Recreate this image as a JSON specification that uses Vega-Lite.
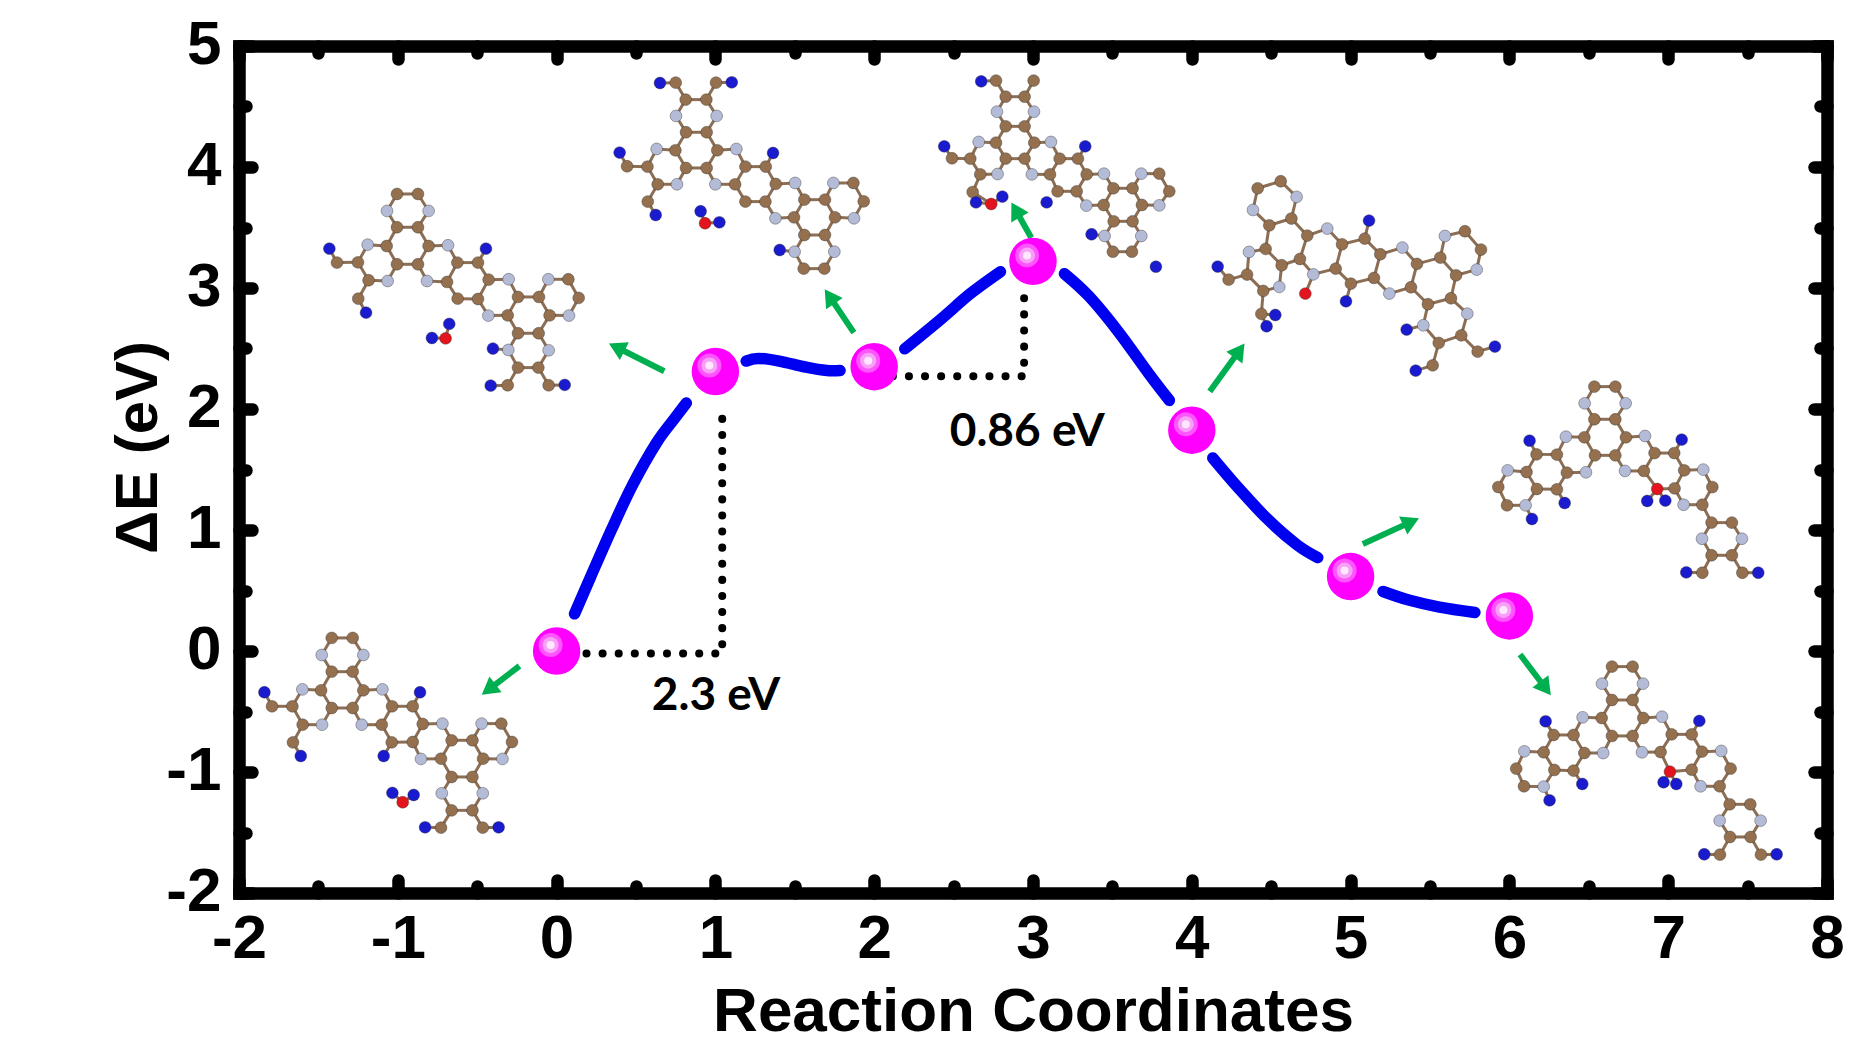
{"$schema":"https://vega.github.io/schema/vega-lite/v6.json","width":1588,"height":847,"autosize":{"type":"none"},"padding":{"left":239,"top":46,"right":44,"bottom":170},"background":"white",
"datasets":{
"energy":[{"x":0,"y":0},{"x":1,"y":2.31},{"x":2,"y":2.35},{"x":3,"y":3.22},{"x":4,"y":1.825},{"x":5,"y":0.615},{"x":6,"y":0.29}],
"curve":[{"s":"a","x":0.113,"y":0.307},{"s":"a","x":0.215,"y":0.615},{"s":"a","x":0.347,"y":1.007},{"s":"a","x":0.478,"y":1.371},{"s":"a","x":0.629,"y":1.72},{"s":"a","x":0.742,"y":1.92},{"s":"a","x":0.817,"y":2.05},
{"s":"b","x":1.194,"y":2.396},{"s":"b","x":1.269,"y":2.418},{"s":"b","x":1.401,"y":2.396},{"s":"b","x":1.571,"y":2.346},{"s":"b","x":1.702,"y":2.318},{"s":"b","x":1.785,"y":2.318},
{"s":"c","x":2.192,"y":2.497},{"s":"c","x":2.415,"y":2.737},{"s":"c","x":2.608,"y":2.956},{"s":"c","x":2.795,"y":3.135},
{"s":"d","x":3.198,"y":3.118},{"s":"d","x":3.355,"y":2.928},{"s":"d","x":3.542,"y":2.631},{"s":"d","x":3.728,"y":2.295},{"s":"d","x":3.859,"y":2.071},
{"s":"e","x":4.132,"y":1.595},{"s":"e","x":4.289,"y":1.354},{"s":"e","x":4.476,"y":1.091},{"s":"e","x":4.662,"y":0.878},{"s":"e","x":4.793,"y":0.772},
{"s":"f","x":5.204,"y":0.492},{"s":"f","x":5.372,"y":0.419},{"s":"f","x":5.559,"y":0.363},{"s":"f","x":5.783,"y":0.318}],
"dots":[{"s":"a","i":1,"x":0.188,"y":-0.02},{"s":"a","i":2,"x":1.043,"y":-0.02},{"s":"a","i":3,"x":1.043,"y":2.015},{"s":"b","i":1,"x":2.117,"y":2.27},{"s":"b","i":2,"x":2.944,"y":2.27},{"s":"b","i":3,"x":2.944,"y":2.967}],
"shafts":[{"x":-0.234,"y":-0.124,"x2":-0.428,"y2":-0.319},{"x":0.678,"y":2.312,"x2":0.378,"y2":2.51},{"x":1.872,"y":2.631,"x2":1.719,"y2":2.93},{"x":2.989,"y":3.415,"x2":2.891,"y2":3.645},{"x":4.113,"y":2.144,"x2":4.3,"y2":2.483},{"x":5.077,"y":0.884,"x2":5.381,"y2":1.067},{"x":6.067,"y":-0.029,"x2":6.228,"y2":-0.308}],
"heads":[{"x":-0.428,"y":-0.319,"a":232.6},{"x":0.378,"y":2.51,"a":296.6},{"x":1.719,"y":2.93,"a":326},{"x":2.891,"y":3.645,"a":330.6},{"x":4.3,"y":2.483,"a":36},{"x":5.381,"y":1.067,"a":65.5},{"x":6.228,"y":-0.308,"a":142.9}],
"notes":[{"x":1.004,"y":-0.375,"t":"2.3 eV"},{"x":2.964,"y":1.807,"t":"0.86 eV"}],
"atoms":[
{"id":1,"e":"C","x":-1.416,"y":0.108},{"id":2,"e":"C","x":-1.284,"y":0.108},{"id":3,"e":"N","x":-1.479,"y":-0.033},{"id":4,"e":"N","x":-1.217,"y":-0.033},{"id":5,"e":"C","x":-1.416,"y":-0.171},{"id":6,"e":"C","x":-1.284,"y":-0.171},{"id":7,"e":"C","x":-1.483,"y":-0.325},{"id":8,"e":"C","x":-1.217,"y":-0.325},{"id":9,"e":"N","x":-1.601,"y":-0.317},{"id":10,"e":"N","x":-1.097,"y":-0.317},{"id":11,"e":"C","x":-1.416,"y":-0.471},{"id":12,"e":"C","x":-1.284,"y":-0.471},{"id":13,"e":"C","x":-1.664,"y":-0.457},{"id":14,"e":"C","x":-1.792,"y":-0.457},{"id":15,"e":"C","x":-1.599,"y":-0.609},{"id":16,"e":"C","x":-1.66,"y":-0.755},{"id":17,"e":"N","x":-1.477,"y":-0.609},{"id":18,"e":"N","x":-1.227,"y":-0.609},{"id":19,"e":"C","x":-1.101,"y":-0.609},{"id":20,"e":"C","x":-1.036,"y":-0.457},{"id":21,"e":"C","x":-0.906,"y":-0.457},{"id":22,"e":"C","x":-0.843,"y":-0.603},{"id":23,"e":"C","x":-0.906,"y":-0.752},{"id":24,"e":"C","x":-1.038,"y":-0.755},{"id":25,"e":"N","x":-0.719,"y":-0.6},{"id":26,"e":"N","x":-0.854,"y":-0.892},{"id":27,"e":"C","x":-0.661,"y":-0.738},{"id":28,"e":"C","x":-0.53,"y":-0.738},{"id":29,"e":"C","x":-0.463,"y":-0.89},{"id":30,"e":"C","x":-0.53,"y":-1.041},{"id":31,"e":"C","x":-0.661,"y":-1.041},{"id":32,"e":"C","x":-0.728,"y":-0.89},{"id":33,"e":"N","x":-0.472,"y":-0.6},{"id":34,"e":"N","x":-0.341,"y":-0.892},{"id":35,"e":"C","x":-0.348,"y":-0.6},{"id":36,"e":"C","x":-0.281,"y":-0.752},{"id":37,"e":"N","x":-0.723,"y":-1.176},{"id":38,"e":"N","x":-0.465,"y":-1.176},{"id":39,"e":"C","x":-0.661,"y":-1.317},{"id":40,"e":"C","x":-0.53,"y":-1.317},{"id":41,"e":"C","x":-0.728,"y":-1.46},{"id":42,"e":"C","x":-0.465,"y":-1.46},{"id":43,"e":"B","x":-1.84,"y":-0.341},{"id":44,"e":"B","x":-1.611,"y":-0.868},{"id":45,"e":"B","x":-0.86,"y":-0.341},{"id":46,"e":"B","x":-1.089,"y":-0.868},{"id":47,"e":"B","x":-1.034,"y":-1.173},{"id":48,"e":"B","x":-0.9,"y":-1.19},{"id":49,"e":"B","x":-0.828,"y":-1.457},{"id":50,"e":"B","x":-0.365,"y":-1.457},{"id":51,"e":"O","x":-0.969,"y":-1.25},
{"id":101,"e":"C","x":-1.005,"y":3.777},{"id":102,"e":"C","x":-0.873,"y":3.777},{"id":103,"e":"N","x":-1.068,"y":3.637},{"id":104,"e":"N","x":-0.806,"y":3.637},{"id":105,"e":"C","x":-1.005,"y":3.502},{"id":106,"e":"C","x":-0.873,"y":3.502},{"id":107,"e":"C","x":-1.07,"y":3.347},{"id":108,"e":"C","x":-0.806,"y":3.347},{"id":109,"e":"N","x":-1.19,"y":3.358},{"id":110,"e":"N","x":-0.684,"y":3.353},{"id":111,"e":"C","x":-1.005,"y":3.196},{"id":112,"e":"C","x":-0.873,"y":3.196},{"id":113,"e":"C","x":-1.251,"y":3.212},{"id":114,"e":"C","x":-1.383,"y":3.21},{"id":115,"e":"C","x":-1.184,"y":3.064},{"id":116,"e":"C","x":-1.249,"y":2.912},{"id":117,"e":"N","x":-1.064,"y":3.058},{"id":118,"e":"N","x":-0.816,"y":3.058},{"id":119,"e":"C","x":-0.69,"y":3.05},{"id":120,"e":"C","x":-0.625,"y":3.21},{"id":121,"e":"C","x":-0.495,"y":3.21},{"id":122,"e":"C","x":-0.428,"y":3.069},{"id":123,"e":"C","x":-0.495,"y":2.909},{"id":124,"e":"C","x":-0.623,"y":2.912},{"id":125,"e":"N","x":-0.302,"y":3.072},{"id":126,"e":"N","x":-0.43,"y":2.772},{"id":127,"e":"C","x":-0.243,"y":2.926},{"id":128,"e":"C","x":-0.111,"y":2.926},{"id":129,"e":"C","x":-0.044,"y":2.774},{"id":130,"e":"C","x":-0.113,"y":2.626},{"id":131,"e":"C","x":-0.243,"y":2.626},{"id":132,"e":"C","x":-0.308,"y":2.774},{"id":133,"e":"N","x":-0.052,"y":3.072},{"id":134,"e":"N","x":0.078,"y":2.772},{"id":135,"e":"C","x":0.074,"y":3.072},{"id":136,"e":"C","x":0.139,"y":2.918},{"id":137,"e":"N","x":-0.304,"y":2.488},{"id":138,"e":"N","x":-0.05,"y":2.485},{"id":139,"e":"C","x":-0.243,"y":2.342},{"id":140,"e":"C","x":-0.115,"y":2.342},{"id":141,"e":"C","x":-0.308,"y":2.196},{"id":142,"e":"C","x":-0.05,"y":2.196},{"id":143,"e":"B","x":-1.431,"y":3.325},{"id":144,"e":"B","x":-1.2,"y":2.796},{"id":145,"e":"B","x":-0.445,"y":3.325},{"id":146,"e":"B","x":-0.401,"y":2.499},{"id":147,"e":"B","x":-0.676,"y":2.703},{"id":148,"e":"B","x":-0.785,"y":2.587},{"id":149,"e":"B","x":-0.415,"y":2.193},{"id":150,"e":"B","x":0.051,"y":2.199},{"id":151,"e":"O","x":-0.699,"y":2.584},
{"id":201,"e":"C","x":0.813,"y":4.557},{"id":202,"e":"C","x":0.943,"y":4.557},{"id":203,"e":"N","x":0.752,"y":4.422},{"id":204,"e":"N","x":1.008,"y":4.422},{"id":205,"e":"C","x":0.815,"y":4.287},{"id":206,"e":"C","x":0.945,"y":4.287},{"id":207,"e":"C","x":0.748,"y":4.138},{"id":208,"e":"C","x":1.012,"y":4.138},{"id":209,"e":"N","x":0.63,"y":4.149},{"id":210,"e":"N","x":1.132,"y":4.149},{"id":211,"e":"C","x":0.815,"y":3.992},{"id":212,"e":"C","x":0.945,"y":3.992},{"id":213,"e":"C","x":0.572,"y":4.003},{"id":214,"e":"C","x":0.444,"y":4.006},{"id":215,"e":"C","x":0.637,"y":3.857},{"id":216,"e":"C","x":0.574,"y":3.714},{"id":217,"e":"N","x":0.758,"y":3.857},{"id":218,"e":"N","x":1.0,"y":3.857},{"id":219,"e":"C","x":1.124,"y":3.857},{"id":220,"e":"C","x":1.189,"y":4.003},{"id":221,"e":"C","x":1.317,"y":4.003},{"id":222,"e":"C","x":1.38,"y":3.86},{"id":223,"e":"C","x":1.315,"y":3.714},{"id":224,"e":"C","x":1.189,"y":3.714},{"id":225,"e":"N","x":1.502,"y":3.868},{"id":226,"e":"N","x":1.378,"y":3.576},{"id":227,"e":"C","x":1.56,"y":3.73},{"id":228,"e":"C","x":1.69,"y":3.73},{"id":229,"e":"C","x":1.753,"y":3.584},{"id":230,"e":"C","x":1.69,"y":3.438},{"id":231,"e":"C","x":1.56,"y":3.438},{"id":232,"e":"C","x":1.495,"y":3.584},{"id":233,"e":"N","x":1.743,"y":3.868},{"id":234,"e":"N","x":1.873,"y":3.576},{"id":235,"e":"C","x":1.869,"y":3.868},{"id":236,"e":"C","x":1.934,"y":3.716},{"id":237,"e":"N","x":1.499,"y":3.3},{"id":238,"e":"N","x":1.749,"y":3.3},{"id":239,"e":"C","x":1.556,"y":3.16},{"id":240,"e":"C","x":1.686,"y":3.16},{"id":241,"e":"C","x":0.75,"y":4.697},{"id":242,"e":"C","x":1.004,"y":4.697},{"id":243,"e":"B","x":0.397,"y":4.119},{"id":244,"e":"B","x":0.624,"y":3.603},{"id":245,"e":"B","x":1.363,"y":4.116},{"id":246,"e":"B","x":1.405,"y":3.314},{"id":247,"e":"B","x":0.907,"y":3.634},{"id":248,"e":"B","x":1.025,"y":3.543},{"id":249,"e":"B","x":0.651,"y":4.694},{"id":250,"e":"B","x":1.103,"y":4.7},{"id":251,"e":"O","x":0.935,"y":3.535},
{"id":301,"e":"C","x":2.828,"y":4.581},{"id":302,"e":"C","x":2.947,"y":4.581},{"id":303,"e":"N","x":2.773,"y":4.457},{"id":304,"e":"N","x":3.006,"y":4.457},{"id":305,"e":"C","x":2.828,"y":4.336},{"id":306,"e":"C","x":2.947,"y":4.336},{"id":307,"e":"C","x":2.767,"y":4.201},{"id":308,"e":"C","x":3.008,"y":4.201},{"id":309,"e":"N","x":2.658,"y":4.207},{"id":310,"e":"N","x":3.113,"y":4.207},{"id":311,"e":"C","x":2.828,"y":4.069},{"id":312,"e":"C","x":2.947,"y":4.069},{"id":313,"e":"C","x":2.605,"y":4.069},{"id":314,"e":"C","x":2.49,"y":4.072},{"id":315,"e":"C","x":2.668,"y":3.939},{"id":316,"e":"C","x":2.62,"y":3.793},{"id":317,"e":"N","x":2.777,"y":3.942},{"id":318,"e":"N","x":2.993,"y":3.939},{"id":319,"e":"C","x":3.107,"y":3.939},{"id":320,"e":"C","x":3.168,"y":4.069},{"id":321,"e":"C","x":3.283,"y":4.069},{"id":322,"e":"C","x":3.338,"y":3.939},{"id":323,"e":"C","x":3.275,"y":3.799},{"id":324,"e":"C","x":3.155,"y":3.799},{"id":325,"e":"N","x":3.447,"y":3.945},{"id":326,"e":"N","x":3.336,"y":3.681},{"id":327,"e":"C","x":3.506,"y":3.824},{"id":328,"e":"C","x":3.627,"y":3.824},{"id":329,"e":"C","x":3.686,"y":3.686},{"id":330,"e":"C","x":3.627,"y":3.551},{"id":331,"e":"C","x":3.508,"y":3.551},{"id":332,"e":"C","x":3.445,"y":3.686},{"id":333,"e":"N","x":3.682,"y":3.945},{"id":334,"e":"N","x":3.795,"y":3.683},{"id":335,"e":"C","x":3.795,"y":3.945},{"id":336,"e":"C","x":3.858,"y":3.799},{"id":337,"e":"N","x":3.451,"y":3.43},{"id":338,"e":"N","x":3.682,"y":3.43},{"id":339,"e":"C","x":3.503,"y":3.3},{"id":340,"e":"C","x":3.623,"y":3.3},{"id":341,"e":"C","x":2.767,"y":4.714},{"id":342,"e":"C","x":3.004,"y":4.714},{"id":343,"e":"B","x":2.441,"y":4.171},{"id":344,"e":"B","x":2.641,"y":3.708},{"id":345,"e":"B","x":3.329,"y":4.171},{"id":346,"e":"B","x":3.369,"y":3.444},{"id":347,"e":"B","x":2.807,"y":3.755},{"id":348,"e":"B","x":3.086,"y":3.708},{"id":349,"e":"B","x":2.674,"y":4.708},{"id":350,"e":"B","x":3.774,"y":3.176},{"id":351,"e":"O","x":2.737,"y":3.694},
{"id":401,"e":"C","x":4.415,"y":3.824},{"id":402,"e":"C","x":4.56,"y":3.882},{"id":403,"e":"N","x":4.385,"y":3.645},{"id":404,"e":"N","x":4.66,"y":3.753},{"id":405,"e":"C","x":4.488,"y":3.518},{"id":406,"e":"C","x":4.627,"y":3.574},{"id":407,"e":"C","x":4.465,"y":3.323},{"id":408,"e":"C","x":4.727,"y":3.433},{"id":409,"e":"N","x":4.36,"y":3.298},{"id":410,"e":"N","x":4.853,"y":3.491},{"id":411,"e":"C","x":4.566,"y":3.188},{"id":412,"e":"C","x":4.681,"y":3.24},{"id":413,"e":"C","x":4.348,"y":3.111},{"id":414,"e":"C","x":4.232,"y":3.069},{"id":415,"e":"C","x":4.45,"y":2.976},{"id":416,"e":"C","x":4.438,"y":2.786},{"id":417,"e":"N","x":4.551,"y":3.009},{"id":418,"e":"N","x":4.765,"y":3.113},{"id":419,"e":"C","x":4.906,"y":3.16},{"id":420,"e":"C","x":4.946,"y":3.361},{"id":421,"e":"C","x":5.089,"y":3.408},{"id":422,"e":"C","x":5.187,"y":3.279},{"id":423,"e":"C","x":5.147,"y":3.083},{"id":424,"e":"C","x":5.002,"y":3.036},{"id":425,"e":"N","x":5.326,"y":3.334},{"id":426,"e":"N","x":5.244,"y":2.954},{"id":427,"e":"C","x":5.418,"y":3.199},{"id":428,"e":"C","x":5.565,"y":3.251},{"id":429,"e":"C","x":5.664,"y":3.105},{"id":430,"e":"C","x":5.632,"y":2.915},{"id":431,"e":"C","x":5.487,"y":2.866},{"id":432,"e":"C","x":5.38,"y":3.006},{"id":433,"e":"N","x":5.594,"y":3.43},{"id":434,"e":"N","x":5.794,"y":3.152},{"id":435,"e":"C","x":5.72,"y":3.469},{"id":436,"e":"C","x":5.821,"y":3.317},{"id":437,"e":"N","x":5.458,"y":2.692},{"id":438,"e":"N","x":5.735,"y":2.788},{"id":439,"e":"C","x":5.555,"y":2.546},{"id":440,"e":"C","x":5.697,"y":2.609},{"id":441,"e":"C","x":5.517,"y":2.361},{"id":442,"e":"C","x":5.8,"y":2.474},{"id":443,"e":"B","x":4.163,"y":3.177},{"id":444,"e":"B","x":4.471,"y":2.684},{"id":445,"e":"B","x":5.116,"y":3.557},{"id":446,"e":"B","x":4.971,"y":2.89},{"id":447,"e":"B","x":4.526,"y":2.777},{"id":448,"e":"B","x":5.353,"y":2.656},{"id":449,"e":"B","x":5.41,"y":2.317},{"id":450,"e":"B","x":5.909,"y":2.516},{"id":451,"e":"O","x":4.715,"y":2.954},
{"id":501,"e":"C","x":6.535,"y":2.185},{"id":502,"e":"C","x":6.667,"y":2.185},{"id":503,"e":"N","x":6.474,"y":2.047},{"id":504,"e":"N","x":6.732,"y":2.047},{"id":505,"e":"C","x":6.535,"y":1.915},{"id":506,"e":"C","x":6.667,"y":1.915},{"id":507,"e":"C","x":6.472,"y":1.766},{"id":508,"e":"C","x":6.734,"y":1.766},{"id":509,"e":"N","x":6.356,"y":1.771},{"id":510,"e":"N","x":6.854,"y":1.777},{"id":511,"e":"C","x":6.539,"y":1.617},{"id":512,"e":"C","x":6.667,"y":1.617},{"id":513,"e":"C","x":6.299,"y":1.623},{"id":514,"e":"C","x":6.171,"y":1.625},{"id":515,"e":"C","x":6.362,"y":1.474},{"id":516,"e":"C","x":6.299,"y":1.336},{"id":517,"e":"N","x":6.482,"y":1.477},{"id":518,"e":"N","x":6.728,"y":1.488},{"id":519,"e":"C","x":6.173,"y":1.339},{"id":520,"e":"C","x":6.108,"y":1.479},{"id":521,"e":"N","x":5.989,"y":1.493},{"id":522,"e":"N","x":6.102,"y":1.204},{"id":523,"e":"C","x":5.93,"y":1.355},{"id":524,"e":"C","x":5.985,"y":1.204},{"id":525,"e":"B","x":6.127,"y":1.738},{"id":526,"e":"B","x":6.348,"y":1.223},{"id":527,"e":"B","x":6.142,"y":1.091},{"id":528,"e":"C","x":6.914,"y":1.636},{"id":529,"e":"C","x":6.847,"y":1.488},{"id":530,"e":"C","x":7.038,"y":1.636},{"id":531,"e":"C","x":7.101,"y":1.493},{"id":532,"e":"C","x":7.04,"y":1.344},{"id":534,"e":"N","x":7.221,"y":1.499},{"id":535,"e":"N","x":7.097,"y":1.209},{"id":536,"e":"C","x":7.278,"y":1.355},{"id":537,"e":"C","x":7.215,"y":1.209},{"id":538,"e":"C","x":7.273,"y":1.061},{"id":539,"e":"C","x":7.401,"y":1.061},{"id":540,"e":"N","x":7.213,"y":0.928},{"id":541,"e":"N","x":7.464,"y":0.928},{"id":542,"e":"C","x":7.273,"y":0.791},{"id":543,"e":"C","x":7.401,"y":0.791},{"id":544,"e":"C","x":7.215,"y":0.647},{"id":545,"e":"C","x":7.467,"y":0.647},{"id":546,"e":"B","x":7.085,"y":1.747},{"id":547,"e":"B","x":7.114,"y":0.65},{"id":548,"e":"B","x":7.567,"y":0.647},{"id":549,"e":"B","x":6.868,"y":1.24},{"id":550,"e":"B","x":6.982,"y":1.243},{"id":551,"e":"O","x":6.931,"y":1.339},
{"id":601,"e":"C","x":6.646,"y":-0.129},{"id":602,"e":"C","x":6.776,"y":-0.129},{"id":603,"e":"N","x":6.583,"y":-0.27},{"id":604,"e":"N","x":6.841,"y":-0.27},{"id":605,"e":"C","x":6.646,"y":-0.405},{"id":606,"e":"C","x":6.776,"y":-0.405},{"id":607,"e":"C","x":6.581,"y":-0.554},{"id":608,"e":"C","x":6.843,"y":-0.554},{"id":609,"e":"N","x":6.461,"y":-0.548},{"id":610,"e":"N","x":6.961,"y":-0.543},{"id":611,"e":"C","x":6.646,"y":-0.702},{"id":612,"e":"C","x":6.776,"y":-0.702},{"id":613,"e":"C","x":6.404,"y":-0.694},{"id":614,"e":"C","x":6.278,"y":-0.694},{"id":615,"e":"C","x":6.472,"y":-0.843},{"id":616,"e":"C","x":6.404,"y":-0.989},{"id":617,"e":"N","x":6.591,"y":-0.843},{"id":618,"e":"N","x":6.835,"y":-0.837},{"id":619,"e":"C","x":6.283,"y":-0.983},{"id":620,"e":"C","x":6.216,"y":-0.837},{"id":621,"e":"N","x":6.094,"y":-0.829},{"id":622,"e":"N","x":6.216,"y":-1.121},{"id":623,"e":"C","x":6.043,"y":-0.972},{"id":624,"e":"C","x":6.092,"y":-1.118},{"id":625,"e":"B","x":6.228,"y":-0.581},{"id":626,"e":"B","x":6.459,"y":-1.099},{"id":627,"e":"B","x":6.253,"y":-1.234},{"id":628,"e":"C","x":7.022,"y":-0.689},{"id":629,"e":"C","x":6.952,"y":-0.835},{"id":630,"e":"C","x":7.148,"y":-0.689},{"id":631,"e":"C","x":7.213,"y":-0.832},{"id":632,"e":"C","x":7.148,"y":-0.981},{"id":634,"e":"N","x":7.334,"y":-0.826},{"id":635,"e":"N","x":7.204,"y":-1.118},{"id":636,"e":"C","x":7.393,"y":-0.972},{"id":637,"e":"C","x":7.324,"y":-1.118},{"id":638,"e":"C","x":7.387,"y":-1.267},{"id":639,"e":"C","x":7.517,"y":-1.267},{"id":640,"e":"N","x":7.324,"y":-1.402},{"id":641,"e":"N","x":7.582,"y":-1.402},{"id":642,"e":"C","x":7.389,"y":-1.537},{"id":643,"e":"C","x":7.519,"y":-1.537},{"id":644,"e":"C","x":7.326,"y":-1.683},{"id":645,"e":"C","x":7.584,"y":-1.683},{"id":646,"e":"B","x":7.196,"y":-0.578},{"id":647,"e":"B","x":7.227,"y":-1.68},{"id":648,"e":"B","x":7.683,"y":-1.68},{"id":649,"e":"B","x":6.971,"y":-1.085},{"id":650,"e":"B","x":7.051,"y":-1.099},{"id":651,"e":"O","x":7.011,"y":-0.997}
],
"bonds":[
{"a":1,"b":2},{"a":1,"b":3},{"a":2,"b":4},{"a":3,"b":5},{"a":4,"b":6},{"a":5,"b":6},{"a":5,"b":7},{"a":6,"b":8},{"a":7,"b":9},{"a":8,"b":10},{"a":7,"b":11},{"a":8,"b":12},{"a":11,"b":12},{"a":9,"b":13},{"a":13,"b":14},{"a":13,"b":15},{"a":15,"b":16},{"a":15,"b":17},{"a":17,"b":11},{"a":12,"b":18},{"a":18,"b":19},{"a":10,"b":20},{"a":19,"b":20},{"a":20,"b":21},{"a":21,"b":22},{"a":22,"b":23},{"a":23,"b":24},{"a":24,"b":19},{"a":22,"b":25},{"a":25,"b":27},{"a":23,"b":26},{"a":26,"b":32},{"a":27,"b":28},{"a":28,"b":29},{"a":29,"b":30},{"a":30,"b":31},{"a":31,"b":32},{"a":32,"b":27},{"a":28,"b":33},{"a":33,"b":35},{"a":35,"b":36},{"a":36,"b":34},{"a":34,"b":29},{"a":31,"b":37},{"a":30,"b":38},{"a":37,"b":39},{"a":38,"b":40},{"a":39,"b":40},{"a":39,"b":41},{"a":40,"b":42},{"a":14,"b":43},{"a":16,"b":44},{"a":21,"b":45},{"a":24,"b":46},{"a":41,"b":49},{"a":42,"b":50},{"a":47,"b":51},{"a":48,"b":51},
{"a":101,"b":102},{"a":101,"b":103},{"a":102,"b":104},{"a":103,"b":105},{"a":104,"b":106},{"a":105,"b":106},{"a":105,"b":107},{"a":106,"b":108},{"a":107,"b":109},{"a":108,"b":110},{"a":107,"b":111},{"a":108,"b":112},{"a":111,"b":112},{"a":109,"b":113},{"a":113,"b":114},{"a":113,"b":115},{"a":115,"b":116},{"a":115,"b":117},{"a":117,"b":111},{"a":112,"b":118},{"a":118,"b":119},{"a":110,"b":120},{"a":119,"b":120},{"a":120,"b":121},{"a":121,"b":122},{"a":122,"b":123},{"a":123,"b":124},{"a":124,"b":119},{"a":122,"b":125},{"a":125,"b":127},{"a":123,"b":126},{"a":126,"b":132},{"a":127,"b":128},{"a":128,"b":129},{"a":129,"b":130},{"a":130,"b":131},{"a":131,"b":132},{"a":132,"b":127},{"a":128,"b":133},{"a":133,"b":135},{"a":135,"b":136},{"a":136,"b":134},{"a":134,"b":129},{"a":131,"b":137},{"a":130,"b":138},{"a":137,"b":139},{"a":138,"b":140},{"a":139,"b":140},{"a":139,"b":141},{"a":140,"b":142},{"a":114,"b":143},{"a":116,"b":144},{"a":121,"b":145},{"a":137,"b":146},{"a":141,"b":149},{"a":142,"b":150},{"a":147,"b":151},{"a":148,"b":151},
{"a":201,"b":202},{"a":201,"b":203},{"a":202,"b":204},{"a":203,"b":205},{"a":204,"b":206},{"a":205,"b":206},{"a":205,"b":207},{"a":206,"b":208},{"a":207,"b":209},{"a":208,"b":210},{"a":207,"b":211},{"a":208,"b":212},{"a":211,"b":212},{"a":209,"b":213},{"a":213,"b":214},{"a":213,"b":215},{"a":215,"b":216},{"a":215,"b":217},{"a":217,"b":211},{"a":212,"b":218},{"a":218,"b":219},{"a":210,"b":220},{"a":219,"b":220},{"a":220,"b":221},{"a":221,"b":222},{"a":222,"b":223},{"a":223,"b":224},{"a":224,"b":219},{"a":222,"b":225},{"a":225,"b":227},{"a":223,"b":226},{"a":226,"b":232},{"a":227,"b":228},{"a":228,"b":229},{"a":229,"b":230},{"a":230,"b":231},{"a":231,"b":232},{"a":232,"b":227},{"a":228,"b":233},{"a":233,"b":235},{"a":235,"b":236},{"a":236,"b":234},{"a":234,"b":229},{"a":231,"b":237},{"a":230,"b":238},{"a":237,"b":239},{"a":238,"b":240},{"a":239,"b":240},{"a":201,"b":241},{"a":202,"b":242},{"a":214,"b":243},{"a":216,"b":244},{"a":221,"b":245},{"a":237,"b":246},{"a":241,"b":249},{"a":242,"b":250},{"a":247,"b":251},{"a":248,"b":251},
{"a":301,"b":302},{"a":301,"b":303},{"a":302,"b":304},{"a":303,"b":305},{"a":304,"b":306},{"a":305,"b":306},{"a":305,"b":307},{"a":306,"b":308},{"a":307,"b":309},{"a":308,"b":310},{"a":307,"b":311},{"a":308,"b":312},{"a":311,"b":312},{"a":309,"b":313},{"a":313,"b":314},{"a":313,"b":315},{"a":315,"b":316},{"a":315,"b":317},{"a":317,"b":311},{"a":312,"b":318},{"a":318,"b":319},{"a":310,"b":320},{"a":319,"b":320},{"a":320,"b":321},{"a":321,"b":322},{"a":322,"b":323},{"a":323,"b":324},{"a":324,"b":319},{"a":322,"b":325},{"a":325,"b":327},{"a":323,"b":326},{"a":326,"b":332},{"a":327,"b":328},{"a":328,"b":329},{"a":329,"b":330},{"a":330,"b":331},{"a":331,"b":332},{"a":332,"b":327},{"a":328,"b":333},{"a":333,"b":335},{"a":335,"b":336},{"a":336,"b":334},{"a":334,"b":329},{"a":331,"b":337},{"a":330,"b":338},{"a":337,"b":339},{"a":338,"b":340},{"a":339,"b":340},{"a":301,"b":341},{"a":302,"b":342},{"a":314,"b":343},{"a":321,"b":345},{"a":337,"b":346},{"a":341,"b":349},{"a":316,"b":351},{"a":344,"b":351},{"a":347,"b":351},
{"a":401,"b":402},{"a":401,"b":403},{"a":402,"b":404},{"a":403,"b":405},{"a":404,"b":406},{"a":405,"b":406},{"a":405,"b":407},{"a":406,"b":408},{"a":407,"b":409},{"a":408,"b":410},{"a":407,"b":411},{"a":408,"b":412},{"a":411,"b":412},{"a":409,"b":413},{"a":413,"b":414},{"a":413,"b":415},{"a":415,"b":416},{"a":415,"b":417},{"a":417,"b":411},{"a":412,"b":418},{"a":418,"b":419},{"a":410,"b":420},{"a":419,"b":420},{"a":420,"b":421},{"a":421,"b":422},{"a":422,"b":423},{"a":423,"b":424},{"a":424,"b":419},{"a":422,"b":425},{"a":425,"b":427},{"a":423,"b":426},{"a":426,"b":432},{"a":427,"b":428},{"a":428,"b":429},{"a":429,"b":430},{"a":430,"b":431},{"a":431,"b":432},{"a":432,"b":427},{"a":428,"b":433},{"a":433,"b":435},{"a":435,"b":436},{"a":436,"b":434},{"a":434,"b":429},{"a":431,"b":437},{"a":430,"b":438},{"a":437,"b":439},{"a":438,"b":440},{"a":439,"b":440},{"a":439,"b":441},{"a":440,"b":442},{"a":414,"b":443},{"a":416,"b":444},{"a":421,"b":445},{"a":424,"b":446},{"a":441,"b":449},{"a":442,"b":450},{"a":416,"b":447},{"a":437,"b":448},{"a":418,"b":451},
{"a":501,"b":502},{"a":501,"b":503},{"a":502,"b":504},{"a":503,"b":505},{"a":504,"b":506},{"a":505,"b":506},{"a":505,"b":507},{"a":506,"b":508},{"a":507,"b":511},{"a":511,"b":512},{"a":512,"b":508},{"a":507,"b":509},{"a":508,"b":510},{"a":511,"b":517},{"a":512,"b":518},{"a":509,"b":513},{"a":517,"b":515},{"a":513,"b":515},{"a":513,"b":514},{"a":514,"b":520},{"a":520,"b":519},{"a":519,"b":516},{"a":516,"b":515},{"a":520,"b":521},{"a":519,"b":522},{"a":521,"b":523},{"a":523,"b":524},{"a":524,"b":522},{"a":514,"b":525},{"a":516,"b":526},{"a":522,"b":527},{"a":510,"b":528},{"a":518,"b":529},{"a":528,"b":529},{"a":528,"b":530},{"a":530,"b":531},{"a":531,"b":532},{"a":532,"b":551},{"a":551,"b":529},{"a":531,"b":534},{"a":532,"b":535},{"a":534,"b":536},{"a":536,"b":537},{"a":537,"b":535},{"a":537,"b":538},{"a":538,"b":539},{"a":538,"b":540},{"a":539,"b":541},{"a":540,"b":542},{"a":541,"b":543},{"a":542,"b":543},{"a":542,"b":544},{"a":543,"b":545},{"a":530,"b":546},{"a":544,"b":547},{"a":545,"b":548},{"a":551,"b":549},{"a":551,"b":550},
{"a":601,"b":602},{"a":601,"b":603},{"a":602,"b":604},{"a":603,"b":605},{"a":604,"b":606},{"a":605,"b":606},{"a":605,"b":607},{"a":606,"b":608},{"a":607,"b":611},{"a":611,"b":612},{"a":612,"b":608},{"a":607,"b":609},{"a":608,"b":610},{"a":611,"b":617},{"a":612,"b":618},{"a":609,"b":613},{"a":617,"b":615},{"a":613,"b":615},{"a":613,"b":614},{"a":614,"b":620},{"a":620,"b":619},{"a":619,"b":616},{"a":616,"b":615},{"a":620,"b":621},{"a":619,"b":622},{"a":621,"b":623},{"a":623,"b":624},{"a":624,"b":622},{"a":614,"b":625},{"a":616,"b":626},{"a":622,"b":627},{"a":610,"b":628},{"a":618,"b":629},{"a":628,"b":629},{"a":628,"b":630},{"a":630,"b":631},{"a":631,"b":632},{"a":632,"b":651},{"a":651,"b":629},{"a":631,"b":634},{"a":632,"b":635},{"a":634,"b":636},{"a":636,"b":637},{"a":637,"b":635},{"a":637,"b":638},{"a":638,"b":639},{"a":638,"b":640},{"a":639,"b":641},{"a":640,"b":642},{"a":641,"b":643},{"a":642,"b":643},{"a":642,"b":644},{"a":643,"b":645},{"a":630,"b":646},{"a":644,"b":647},{"a":645,"b":648},{"a":651,"b":649},{"a":651,"b":650}
]},
"resolve":{"axis":{"x":"independent","y":"independent"}},
"layer":[
{"encoding":{
"x":{"field":"x","type":"quantitative","scale":{"domain":[-2,8],"nice":false,"zero":false},"title":"Reaction Coordinates","axis":{"orient":"bottom","values":[-2,-1.5,-1,-0.5,0,0.5,1,1.5,2,2.5,3,3.5,4,4.5,5,5.5,6,6.5,7,7.5,8],"grid":false,"domainColor":"black","domainWidth":12.5,"domainCap":"square","tickColor":"black","tickWidth":12.5,"tickCap":"round","tickSize":{"condition":{"test":"datum.value % 1 === 0","value":-13},"value":-7},"labelExpr":"datum.value % 1 === 0 ? '' + datum.value : ''","labelFont":"Liberation Sans","labelFontWeight":"bold","labelFontSize":62,"labelColor":"black","labelBaseline":"alphabetic","labelPadding":77,"labelOverlap":false,"labelFlush":false,"titleFont":"Liberation Sans","titleFontWeight":"bold","titleFontSize":62,"titleColor":"black","titleX":794,"titleY":137,"titleBaseline":"alphabetic"}},
"y":{"field":"y","type":"quantitative","scale":{"domain":[-2,5],"nice":false,"zero":false},"title":"ΔE (eV)","axis":{"orient":"left","values":[-2,-1.5,-1,-0.5,0,0.5,1,1.5,2,2.5,3,3.5,4,4.5,5],"grid":false,"domainColor":"black","domainWidth":12.5,"domainCap":"square","tickColor":"black","tickWidth":12.5,"tickCap":"round","tickSize":{"condition":{"test":"datum.value % 1 === 0","value":-13},"value":-7},"labelExpr":"datum.value % 1 === 0 ? '' + datum.value : ''","labelFont":"Liberation Sans","labelFontWeight":"bold","labelFontSize":62,"labelColor":"black","labelPadding":31,"labelOffset":-2,"labelOverlap":false,"labelFlush":false,"titleFont":"Liberation Sans","titleFontWeight":"bold","titleFontSize":60,"titleColor":"black","titleX":-83,"titleY":401,"titleBaseline":"alphabetic"}}},
"layer":[
{"data":{"name":"bonds"},"transform":[{"lookup":"a","from":{"data":{"name":"atoms"},"key":"id","fields":["x","y"]}},{"lookup":"b","from":{"data":{"name":"atoms"},"key":"id","fields":["x","y"]},"as":["x2","y2"]}],"mark":{"type":"rule","color":"#8C6E55","strokeWidth":3},"encoding":{"x2":{"field":"x2"},"y2":{"field":"y2"}}},
{"data":{"name":"atoms"},"mark":{"type":"point","filled":true,"opacity":1,"size":140,"stroke":"#333333","strokeWidth":1,"strokeOpacity":0.4},"encoding":{"fill":{"field":"e","type":"nominal","scale":{"domain":["C","N","B","O"],"range":["#94704F","#B4BBD6","#1A1ACF","#E3141E"]},"legend":null}}},
{"data":{"name":"curve"},"mark":{"type":"line","color":"#0000F0","strokeWidth":11.5,"strokeCap":"round","interpolate":"cardinal"},"encoding":{"detail":{"field":"s"}}},
{"data":{"name":"dots"},"mark":{"type":"line","color":"black","strokeWidth":8,"strokeCap":"round","strokeDash":[0.1,16]},"encoding":{"detail":{"field":"s"},"order":{"field":"i"}}},
{"data":{"name":"shafts"},"mark":{"type":"rule","color":"#00B050","strokeWidth":6},"encoding":{"x2":{"field":"x2"},"y2":{"field":"y2"}}},
{"data":{"name":"heads"},"mark":{"type":"point","shape":"triangle-up","filled":true,"opacity":1,"color":"#00B050","size":400},"encoding":{"angle":{"field":"a","type":"quantitative","scale":null}}},
{"data":{"name":"energy"},"mark":{"type":"point","shape":"circle","filled":true,"opacity":1,"color":"#FF00FF","size":2250}},
{"data":{"name":"energy"},"mark":{"type":"point","shape":"circle","filled":true,"opacity":1,"color":"#FF55FF","size":576,"xOffset":-6,"yOffset":-6}},
{"data":{"name":"energy"},"mark":{"type":"point","shape":"circle","filled":true,"opacity":1,"color":"#F8A0F8","size":256,"xOffset":-6,"yOffset":-6}},
{"data":{"name":"energy"},"mark":{"type":"point","shape":"circle","filled":true,"opacity":1,"color":"#FFE8FF","size":64,"xOffset":-6,"yOffset":-6}},
{"data":{"name":"notes"},"mark":{"type":"text","font":"Lato","fontWeight":"bold","fontSize":46,"color":"black","baseline":"middle","align":"center"},"encoding":{"text":{"field":"t"}}}
]},
{"data":{"name":"energy"},"mark":{"type":"point","opacity":0},"encoding":{
"x":{"field":"x","type":"quantitative","scale":{"domain":[-2,8],"nice":false,"zero":false},"axis":{"orient":"top","title":null,"values":[-2,-1.5,-1,-0.5,0,0.5,1,1.5,2,2.5,3,3.5,4,4.5,5,5.5,6,6.5,7,7.5,8],"grid":false,"labels":false,"domainColor":"black","domainWidth":12.5,"domainCap":"square","tickColor":"black","tickWidth":12.5,"tickCap":"round","tickSize":{"condition":{"test":"datum.value % 1 === 0","value":-13},"value":-7}}},
"y":{"field":"y","type":"quantitative","scale":{"domain":[-2,5],"nice":false,"zero":false},"axis":{"orient":"right","title":null,"values":[-2,-1.5,-1,-0.5,0,0.5,1,1.5,2,2.5,3,3.5,4,4.5,5],"grid":false,"labels":false,"domainColor":"black","domainWidth":12.5,"domainCap":"square","tickColor":"black","tickWidth":12.5,"tickCap":"round","tickSize":{"condition":{"test":"datum.value % 1 === 0","value":-13},"value":-7}}}}}
]}
